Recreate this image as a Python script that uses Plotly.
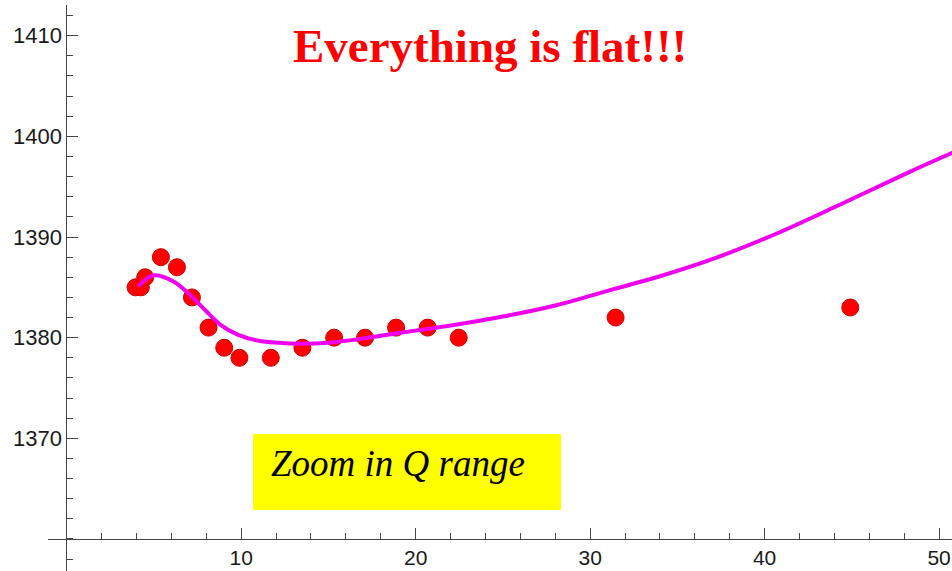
import plotly.graph_objects as go

# Measured masses versus Q
q_data = [3.95, 4.25, 4.5, 5.4, 6.32, 7.18, 8.13, 9.03, 9.9, 11.7, 13.51, 15.33,
          17.1, 18.88, 20.69, 22.47, 31.46, 44.91]
m_data = [1385, 1385, 1386, 1388, 1387, 1384, 1381, 1379, 1378, 1378, 1379, 1380,
          1380, 1381, 1381, 1380, 1382, 1383]

# Fitted curve samples
q_fit = [4.1, 5.0, 6.1, 7.1, 7.9, 8.8, 9.8, 11.0, 12.2, 13.4, 15.0, 16.5, 18.0,
         20.0, 22.0, 25.0, 28.0, 31.3, 34.0, 37.0, 40.5, 44.3, 48.1, 50.8]
m_fit = [1385.1, 1386.2, 1385.6, 1384.2, 1382.8, 1381.3, 1380.3, 1379.7, 1379.5,
         1379.4, 1379.5, 1379.8, 1380.2, 1380.7, 1381.2, 1382.1, 1383.2, 1384.8,
         1386.1, 1387.8, 1390.2, 1393.2, 1396.3, 1398.4]

x_ticks = [10, 20, 30, 40, 50]
y_ticks = [1370, 1380, 1390, 1400, 1410]

title_text = "Everything is flat!!!"
box_text = "Zoom in Q range"

W, H = 952, 571
axis_col = "#444444"

fig = go.Figure()
fig.add_trace(go.Scatter(
    x=q_data, y=m_data, mode="markers",
    marker=dict(size=17, color="#ff0000", line=dict(width=1, color="#cc0000")),
    hoverinfo="skip", showlegend=False,
))
fig.add_trace(go.Scatter(
    x=q_fit, y=m_fit, mode="lines",
    line=dict(color="#ee00ee", width=4, shape="spline", smoothing=1.0),
    hoverinfo="skip", showlegend=False,
))

y_tick_font = dict(family="Liberation Sans, Arial, sans-serif", size=22, color="#1a1a1a")
x_tick_font = dict(family="Liberation Sans, Arial, sans-serif", size=21, color="#1a1a1a")

fig.update_layout(
    width=W, height=H, autosize=False,
    margin=dict(l=0, r=0, t=0, b=0, pad=0),
    paper_bgcolor="white", plot_bgcolor="white",
    xaxis=dict(
        range=[-1.07, 50.74], domain=[48 / W, 1], anchor="free", position=32 / H,
        showline=True, linecolor=axis_col, linewidth=1,
        tickmode="array", tickvals=x_ticks, ticktext=[str(v) for v in x_ticks],
        ticks="inside", ticklen=11, tickwidth=1, tickcolor=axis_col,
        ticklabelstandoff=0,
        minor=dict(tickmode="linear", tick0=0, dtick=2, ticks="inside",
                   ticklen=6, tickwidth=1, tickcolor=axis_col, showgrid=False),
        showgrid=False, zeroline=False, tickfont=x_tick_font, automargin=False,
    ),
    yaxis=dict(
        range=[1356.82, 1413.05], domain=[0, 1 - 5 / H], anchor="free",
        position=66.4 / W,
        showline=True, linecolor=axis_col, linewidth=1,
        tickmode="array", tickvals=y_ticks, ticktext=[str(v) for v in y_ticks],
        ticks="inside", ticklen=11, tickwidth=1, tickcolor=axis_col,
        minor=dict(tickmode="linear", tick0=1360, dtick=2, ticks="inside",
                   ticklen=6, tickwidth=1, tickcolor=axis_col, showgrid=False),
        showgrid=False, zeroline=False, tickfont=y_tick_font, automargin=False,
    ),
)

# Yellow label box
fig.add_shape(type="rect", xref="paper", yref="paper",
              x0=253 / W, x1=561 / W, y0=1 - 510 / H, y1=1 - 434 / H,
              fillcolor="#ffff00", line=dict(width=0), layer="above")

fig.add_annotation(
    text=box_text, xref="paper", yref="paper",
    x=269 / W, y=1 - 463 / H, xanchor="left", yanchor="middle", showarrow=False,
    font=dict(family="Liberation Serif, Times New Roman, serif", size=37,
              color="black", style="italic"),
)

fig.add_annotation(
    text="<b>" + title_text + "</b>", xref="paper", yref="paper",
    x=490.5 / W, y=1 - 46 / H, xanchor="center", yanchor="middle", showarrow=False,
    font=dict(family="Liberation Serif, Times New Roman, serif", size=47, color="#ff0000"),
)

fig.write_html("out.html")
